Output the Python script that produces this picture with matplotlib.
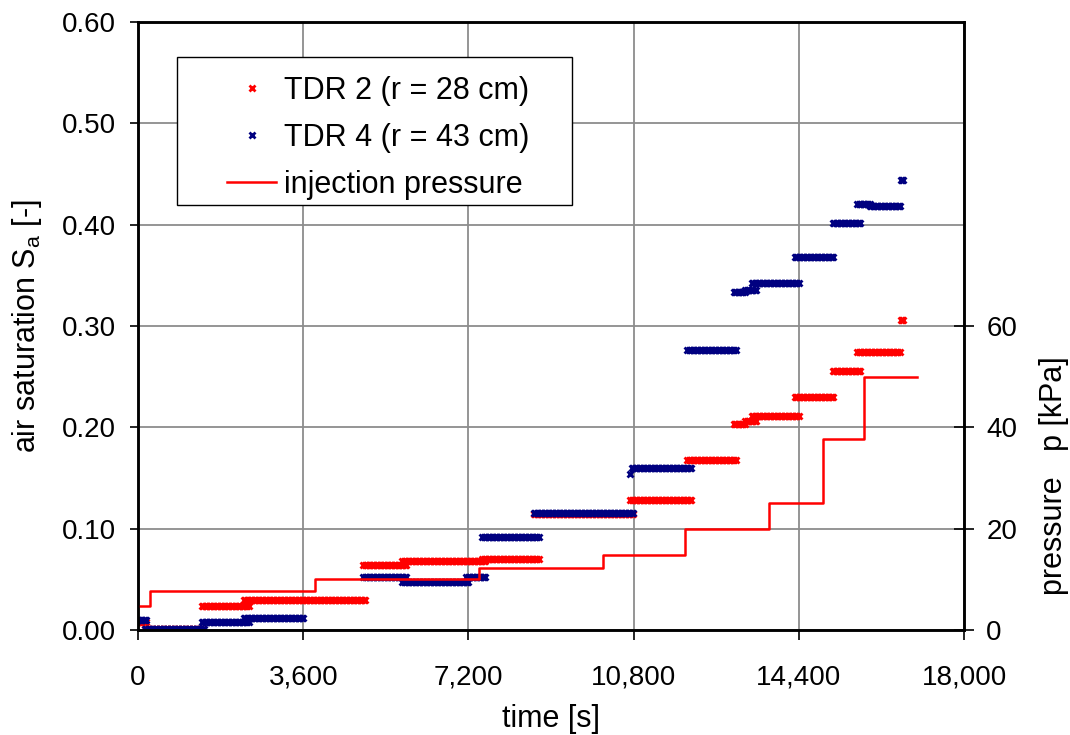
import numpy as np
import matplotlib
matplotlib.use("Agg")
import matplotlib.pyplot as plt
from matplotlib.patches import Rectangle
from matplotlib.ticker import FuncFormatter, FormatStrFormatter

plt.rcParams["font.family"] = ["Liberation Sans", "DejaVu Sans"]

# logged plateaus: (start [s], end [s], air saturation [-])
tdr2_segments = [
    (0, 200, 0.008), (150, 1400, 0.001), (1390, 2420, 0.024),
    (2310, 4970, 0.030), (4910, 5850, 0.064), (5760, 7570, 0.068),
    (7500, 8730, 0.070), (8630, 10800, 0.114), (10730, 12070, 0.128),
    (11970, 13020, 0.168), (12980, 13230, 0.203), (13230, 13490, 0.206),
    (13380, 14410, 0.2115), (14310, 15170, 0.230), (15140, 15740, 0.256),
    (15670, 16610, 0.274), (16620, 16680, 0.306),
]
tdr4_segments = [
    (0, 200, 0.010), (150, 1450, 0.001), (1390, 2420, 0.0075),
    (2310, 3620, 0.012), (4910, 5850, 0.052), (5760, 7210, 0.047),
    (7150, 7570, 0.052), (7500, 8730, 0.0915), (8630, 10800, 0.1155),
    (10720, 10740, 0.154), (10760, 12070, 0.160), (11970, 13020, 0.276),
    (12980, 13230, 0.334), (13230, 13490, 0.336), (13380, 14410, 0.342),
    (14310, 15170, 0.368), (15140, 15740, 0.402), (15670, 15950, 0.420),
    (15950, 16610, 0.418), (16620, 16680, 0.444),
]
log_interval = 30  # s between TDR readings

# injection pressure steps [s], [kPa]
p_times = [20, 255, 3855, 7427, 10128, 11928, 13743, 14930, 15812, 16970]
p_values = [4.75, 7.6, 10.0, 12.3, 14.8, 20.0, 25.0, 37.6, 50.0, 50.0]


def expand(segments):
    t, s = [], []
    for t0, t1, val in segments:
        ts = np.arange(t0, t1 + 1, log_interval)
        t.extend(ts)
        s.extend([val] * len(ts))
    return np.array(t), np.array(s)


fig = plt.figure(figsize=(10.7, 7.35), dpi=100)
ax = fig.add_axes([0.129, 0.143, 0.772, 0.827])

t2, s2 = expand(tdr2_segments)
t4, s4 = expand(tdr4_segments)
ax.plot(t2, s2, ls="none", marker="x", ms=5, mew=2.0, color="#ff0000",
        label="TDR 2 (r = 28 cm)")
ax.plot(t4, s4, ls="none", marker="x", ms=5, mew=2.0, color="#000080",
        label="TDR 4 (r = 43 cm)")

ax.set_xlim(0, 18000)
ax.set_ylim(0, 0.60)
ax.set_xticks(np.arange(0, 18001, 3600))
ax.set_yticks(np.arange(0, 0.61, 0.1))
ax.xaxis.set_major_formatter(FuncFormatter(lambda v, _: f"{v:,.0f}"))
ax.yaxis.set_major_formatter(FormatStrFormatter("%.2f"))
ax.grid(True, color="#8c8c8c", lw=1.3)
ax.set_axisbelow(True)
ax.tick_params(axis="both", labelsize=20, colors="black", width=1.2)
ax.tick_params(axis="x", direction="out", length=7, pad=18)
ax.tick_params(axis="y", direction="out", length=6, pad=10)
for sp in ax.spines.values():
    sp.set_linewidth(1.8)

ax.set_xlabel("time [s]", fontsize=22)
ax.set_ylabel("air saturation S$_\\mathregular{a}$ [-]", fontsize=22)
ax.yaxis.set_label_coords(-0.114, 0.5)
ax.xaxis.set_label_coords(0.5, -0.122)

# pressure on the secondary axis, scaled 200 kPa per unit saturation
ax2 = ax.twinx()
line, = ax2.plot(p_times, p_values, drawstyle="steps-post", color="#ff0000",
                 lw=1.8, label="injection pressure")
ax2.set_ylim(0, 120)
ax2.set_yticks([0, 20, 40, 60])
ax2.tick_params(axis="y", labelsize=20, direction="inout", length=14,
                width=1.2, pad=9)
for sp in ax2.spines.values():
    sp.set_linewidth(1.8)
ax2.set_ylabel("pressure   p [kPa]", fontsize=22)
ax2.yaxis.set_label_coords(1.091, 0.253)

# legend box drawn separately so the padding can be wider on the left
ax2.add_patch(Rectangle((0.0472, 0.699), 0.478, 0.243, transform=ax2.transAxes,
                        facecolor="white", edgecolor="black", lw=1.0,
                        zorder=4))
h1, l1 = ax.get_legend_handles_labels()
leg = ax2.legend(h1 + [line], l1 + ["injection pressure"], fontsize=22,
                 loc="upper left", bbox_to_anchor=(0.108, 0.912),
                 frameon=False, handlelength=1.6, markerscale=0.75,
                 numpoints=1, borderpad=0, labelspacing=0.56,
                 handletextpad=0.25, borderaxespad=0)
leg.set_zorder(5)

fig.savefig("out.png", dpi=100)
